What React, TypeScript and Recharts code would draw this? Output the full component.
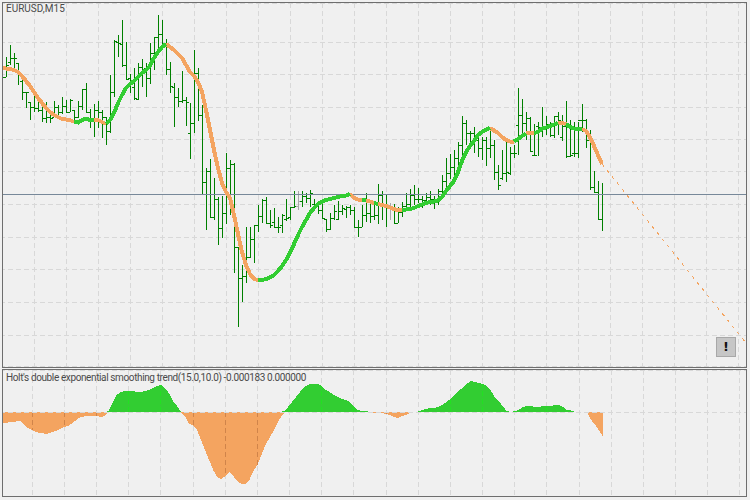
import { Area, CartesianGrid, ComposedChart, Bar, Line, ReferenceLine, XAxis, YAxis } from 'recharts';

// price levels in points, one row per 10 bars (the first bar sits under the window border)
const highs = [
  295,
  309, 321, 313, 303, 286, 274, 264, 273, 269, 263,
  264, 251, 265, 261, 269, 266, 267, 256, 265, 277,
  283, 257, 262, 265, 256, 249, 291, 326, 331, 346,
  324, 292, 298, 303, 307, 303, 323, 329, 351, 346,
  327, 304, 283, 278, 295, 269, 263, 316, 298, 261,
  198, 207, 188, 169, 170, 213, 206, 203, 119, 101,
  139, 139, 141, 161, 167, 169, 156, 158, 149, 152,
  167, 159, 175, 175, 175, 173, 176, 167, 163, 166,
  147, 153, 161, 165, 161, 160, 161, 159, 146, 161,
  173, 166, 164, 182, 175, 171, 163, 162, 159, 164,
  173, 177, 181, 178, 170, 173, 175, 170, 177, 191,
  208, 212, 216, 224, 250, 246, 235, 239, 229, 229,
  229, 236, 226, 201, 216, 224, 219, 221, 278, 267,
  254, 249, 242, 244, 259, 250, 244, 250, 254, 251,
  265, 246, 244, 244, 262, 247, 236, 195, 185, 183,
];
const lows = [
  285,
  289, 301, 296, 281, 266, 258, 246, 254, 254, 244,
  243, 243, 249, 251, 252, 254, 254, 246, 248, 256,
  253, 238, 229, 238, 228, 221, 233, 269, 309, 299,
  286, 273, 266, 266, 279, 269, 282, 296, 316, 320,
  291, 273, 239, 259, 263, 240, 207, 233, 245, 172,
  136, 148, 146, 121, 128, 142, 151, 93, 39, 64,
  83, 108, 103, 134, 143, 143, 138, 138, 133, 133,
  145, 146, 158, 156, 159, 163, 159, 158, 152, 147,
  134, 136, 146, 146, 151, 148, 151, 138, 129, 139,
  144, 143, 146, 142, 146, 139, 146, 143, 143, 149,
  158, 159, 161, 163, 158, 161, 161, 157, 161, 171,
  179, 187, 191, 194, 211, 221, 219, 213, 209, 206,
  200, 208, 186, 176, 186, 184, 191, 208, 211, 231,
  226, 214, 210, 210, 229, 231, 229, 228, 231, 225,
  208, 209, 209, 208, 234, 218, 176, 174, 146, 135,
];
const opens = [
  289,
  289, 304, 308, 303, 285, 274, 264, 259, 258, 256,
  248, 249, 249, 259, 254, 260, 254, 256, 249, 260,
  277, 254, 248, 256, 254, 249, 235, 274, 324, 322,
  301, 288, 279, 267, 299, 298, 288, 313, 329, 332,
  320, 297, 279, 269, 265, 266, 233, 243, 293, 251,
  184, 195, 149, 167, 138, 153, 198, 202, 119, 88,
  90, 109, 127, 141, 150, 166, 143, 144, 139, 141,
  147, 149, 159, 160, 165, 170, 168, 162, 160, 156,
  147, 137, 148, 147, 155, 157, 159, 156, 139, 139,
  151, 153, 150, 151, 171, 161, 159, 159, 143, 154,
  160, 162, 171, 167, 167, 166, 169, 167, 165, 175,
  185, 193, 199, 208, 221, 243, 233, 233, 226, 218,
  226, 218, 221, 194, 188, 193, 193, 213, 241, 251,
  243, 248, 211, 240, 239, 239, 242, 231, 250, 229,
  240, 210, 213, 213, 246, 246, 226, 179, 174, 147,
];
const closes = [
  289,
  301, 308, 308, 293, 274, 274, 259, 258, 256, 248,
  249, 248, 259, 254, 260, 254, 266, 249, 260, 277,
  254, 248, 256, 254, 249, 235, 274, 325, 323, 301,
  287, 285, 268, 299, 294, 288, 313, 329, 332, 320,
  297, 280, 269, 265, 266, 264, 243, 293, 251, 184,
  195, 149, 167, 138, 153, 198, 202, 119, 88, 90,
  109, 127, 141, 150, 166, 143, 141, 139, 139, 151,
  148, 159, 160, 165, 170, 168, 173, 160, 156, 148,
  137, 148, 155, 155, 158, 159, 156, 139, 139, 151,
  153, 150, 151, 171, 161, 159, 159, 143, 154, 160,
  162, 171, 167, 167, 166, 169, 167, 165, 175, 185,
  193, 199, 208, 221, 243, 233, 233, 226, 218, 226,
  218, 221, 194, 181, 193, 194, 213, 213, 251, 243,
  248, 215, 211, 239, 239, 242, 231, 250, 246, 240,
  210, 211, 213, 246, 246, 226, 179, 174, 147, 172,
];
const dojiBars = [74, 97]; // the grey ones

const holtLine = [
  298,
  297.5, 297, 296, 294, 290, 285, 280, 274, 268, 263,
  258, 254, 251, 249, 247, 246.5, 246, 244, 243.5, 246,
  247.5, 246, 246, 246, 244, 242, 246, 253, 263, 271,
  278, 282, 285, 289, 293, 296, 300, 308, 314, 319,
  322, 319, 316, 312, 308, 301, 294, 290, 284, 274,
  256, 236, 216, 198, 183, 174, 168, 151, 132, 114,
  101, 92, 87, 86, 86, 87, 88.5, 91, 95, 100,
  106, 113, 122, 131, 139, 146, 153, 158, 162, 164.5,
  166, 167, 168, 169, 170, 170.5, 172, 168, 166.5, 166,
  165.5, 164.5, 163, 162, 161, 160, 158.5, 157, 155.5, 156,
  156.5, 157, 158, 160, 161.5, 163, 164, 164.5, 165.5, 169,
  175, 180, 185, 194, 205, 214, 220, 225, 231, 234,
  236.5, 238, 235.5, 233, 229, 226, 224.5, 224.5, 227, 230,
  232.5, 233, 233, 234, 237.5, 238.5, 240, 241.5, 243, 243,
  242, 239, 237.5, 237, 237, 235, 229, 220, 211, 202,
];
// bar ranges where the line is rising (green), orange everywhere else
const risingRanges = [
  [18, 21], [22, 23], [26, 41], [64, 87], [90, 91], [93, 94],
  [100, 122], [128, 131], [133, 139], [141, 142], [143, 145],
];
const forecastEnd = 23;
const bidLevel = 172;

// lower window, same bars
const trendValues = [
  -11,
  -11, -10.5, -10, -9.5, -9, -13, -16, -18, -20, -21,
  -21.5, -21.5, -20, -19, -17, -15, -14, -11, -8, -5,
  -4.5, -4, -4, -4, -5, -4, 1, 9, 17, 20,
  21, 21, 21, 20, 20, 21, 22, 24, 26, 27,
  24, 19, 11, 6, 0, -4, -12, -13, -18, -28,
  -38, -48, -58, -65, -67, -64, -60, -64, -69, -72,
  -72, -68, -59, -53, -43, -33, -26, -19, -11, -4,
  2, 7, 12, 17, 22, 26, 28, 28, 28, 26,
  22, 20, 17, 15, 13, 12, 10, 6, 2, 1,
  1, -1, -0.5, -1, -1, -2, -3, -5, -6, -4,
  -3, -0.5, 0, 0.5, 2, 3, 4, 4, 5, 7,
  10, 13, 17, 21, 24, 28, 31, 30, 29, 28,
  26, 22, 15, 11, 6, 1, 0, 1, 2, 5,
  6, 6, 5, 5, 6, 6, 6, 7, 7, 5,
  2, 1.5, 0, -0.5, 0, -0.5, -8, -13, -19, -25,
];

const priceTicks = [31, 64, 97, 129, 162, 195, 227, 259, 292, 324];
const barTicks = [8, 16, 24, 32, 40, 48, 56, 64, 72, 80, 88, 96, 104, 112, 120, 128, 136, 144, 152, 160, 168, 176, 184];

const GRID = '#d8d8d8';
const GREEN = '#32cd32';
const SANDY = '#f4a460';
const LAST_SLOT = 186; // the forecast runs past the last bar to the window edge

const isRising = (i: number) => risingRanges.some(([a, b]) => i >= a && i <= b);
const isInsideRising = (i: number) => risingRanges.some(([a, b]) => i > a && i < b);

const priceData = Array.from({ length: LAST_SLOT + 1 }, (_, i) => {
  const hasBar = i < highs.length;
  return {
    i,
    range: hasBar ? [lows[i], highs[i]] : null,
    high: hasBar ? highs[i] : null,
    low: hasBar ? lows[i] : null,
    open: hasBar ? opens[i] : null,
    close: hasBar ? closes[i] : null,
    up: hasBar && isRising(i) ? holtLine[i] : null,
    down: hasBar && (!isRising(i) || !isInsideRising(i)) ? holtLine[i] : null,
    forecast: i === holtLine.length - 1 ? holtLine[i] : i === LAST_SLOT ? forecastEnd : null,
  };
});

const trendData = priceData.map((d, i) => {
  const v = i < trendValues.length ? trendValues[i] : null;
  return { i, above: v == null ? null : Math.max(v, 0), below: v == null ? null : Math.min(v, 0) };
});

// the window grid shows through the filled shape, in a shade of the fill
const gridOverFill = barTicks.filter((t) => t < trendValues.length && trendValues[t] !== 0);

// stem with the open tick on the left and the close tick on the right
const OhlcBar = (props: any) => {
  const { x, y, width, height, payload } = props;
  if (payload.high == null) return null;
  const cx = x + width / 2 + 0.5;
  const perPoint = height / (payload.high - payload.low);
  const openY = Math.round(y + (payload.high - payload.open) * perPoint) + 0.5;
  const closeY = Math.round(y + (payload.high - payload.close) * perPoint) + 0.5;
  const color = dojiBars.includes(payload.i) ? '#a9a9a9' : '#008000';
  return (
    <g stroke={color} strokeWidth={1}>
      <line x1={cx} x2={cx} y1={y} y2={y + height} />
      <line x1={cx - 2.5} x2={cx} y1={openY} y2={openY} />
      <line x1={cx} x2={cx + 2.5} y1={closeY} y2={closeY} />
    </g>
  );
};

const labelStyle: any = {
  position: 'absolute',
  left: 6,
  fontFamily: 'Roboto, sans-serif',
  fontSize: 10,
  color: '#4a4a4a',
  whiteSpace: 'nowrap',
  lineHeight: '12px',
};

const panelStyle: any = {
  position: 'absolute',
  left: 2,
  width: 745,
  border: '1px solid #6e6e6e',
  boxSizing: 'border-box',
};

// nothing from the charts is drawn outside the window frame
const chartClip = 'inset(0 4px 0 3px)';

export default function App() {
  return (
    <div style={{ position: 'fixed', left: 0, top: 0, width: 750, height: 500, background: '#f0f0f0', overflow: 'hidden', shapeRendering: 'crispEdges' }}>
      <div style={{ position: 'absolute', left: 0, top: 0, clipPath: chartClip }}>
        <ComposedChart
          width={750}
          height={367}
          data={priceData}
          margin={{ top: 3, left: 0, right: 2, bottom: 1 }}
          barCategoryGap={0}
        >
          <XAxis dataKey="i" hide ticks={barTicks} interval={0} />
          <YAxis hide domain={[0, 363]} ticks={priceTicks} />
          <CartesianGrid stroke={GRID} strokeDasharray="5 3" />
          <ReferenceLine y={bidLevel} stroke="#778899" />
          <Bar dataKey="range" barSize={4} isAnimationActive={false} shape={OhlcBar} />
          <Line dataKey="forecast" stroke={SANDY} strokeWidth={1} strokeDasharray="3 5" dot={false} connectNulls isAnimationActive={false} />
          <Line dataKey="down" stroke={SANDY} strokeWidth={4} dot={false} isAnimationActive={false} />
          <Line dataKey="up" stroke={GREEN} strokeWidth={4} dot={false} isAnimationActive={false} />
        </ComposedChart>
      </div>
      <div style={{ position: 'absolute', left: 0, top: 370, clipPath: chartClip }}>
        <ComposedChart
          width={750}
          height={126}
          data={trendData}
          margin={{ top: 0, left: 0, right: 2, bottom: 0 }}
          barCategoryGap={0}
        >
          <XAxis dataKey="i" hide ticks={barTicks} interval={0} />
          <YAxis hide domain={[-84, 42]} ticks={[0]} />
          <CartesianGrid stroke={GRID} strokeDasharray="5 3" />
          <Area dataKey="above" fill={GREEN} fillOpacity={1} stroke="none" dot={false} isAnimationActive={false} />
          <Area dataKey="below" fill={SANDY} fillOpacity={1} stroke="none" dot={false} isAnimationActive={false} />
          {gridOverFill.map((t) => (
            <ReferenceLine
              key={t}
              segment={[{ x: t, y: 0 }, { x: t, y: trendValues[t] }]}
              stroke={trendValues[t] > 0 ? '#22e022' : '#d0844a'}
              strokeDasharray="5 3"
            />
          ))}
          <ReferenceLine y={0} stroke={GRID} strokeDasharray="5 3" />
        </ComposedChart>
      </div>

      <div style={{ ...panelStyle, top: 2, height: 366 }} />
      <div style={{ ...panelStyle, top: 369, height: 128 }} />

      <div style={{ ...labelStyle, top: 3 }}>EURUSD,M15</div>
      <div style={{ ...labelStyle, top: 372, letterSpacing: -0.38 }}>Holt's double exponential smoothing trend(15.0,10.0) -0.000183 0.000000</div>

      <div
        style={{
          position: 'absolute',
          left: 716,
          top: 337,
          width: 20,
          height: 20,
          boxSizing: 'border-box',
          background: '#c6c6c6',
          border: '1px solid #a8a8a8',
          textAlign: 'center',
          fontFamily: '"DejaVu Sans", sans-serif',
          fontWeight: 'bold',
          fontSize: 13,
          lineHeight: '18px',
          color: '#111',
        }}
      >
        !
      </div>
    </div>
  );
}
